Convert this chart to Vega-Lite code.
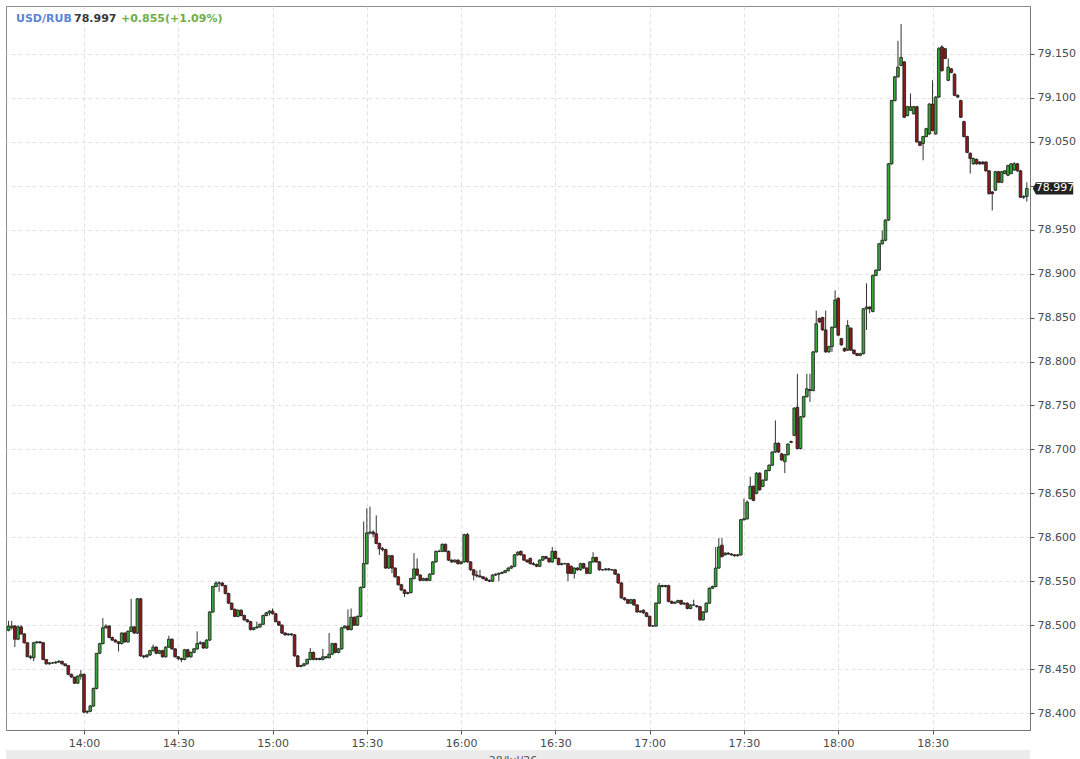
{
"$schema": "https://vega.github.io/schema/vega-lite/v6.json",
"width": 1024,
"height": 724,
"autosize": {"type": "none"},
"padding": {"left": 6, "top": 6, "right": 50, "bottom": 29},
"background": "white",
"config": {
  "view": {"stroke": "#8c8c8c", "strokeWidth": 1},
  "font": "DejaVu Sans",
  "axis": {"labelFont": "DejaVu Sans", "labelFontSize": 11, "labelColor": "#4a4a4a", "gridColor": "#e2e2e2", "gridDash": [4, 3], "gridWidth": 1, "tickColor": "#555", "tickSize": 4, "domainColor": "#777", "titleFont": "DejaVu Sans"}
},
"datasets": {
  "candles": [
{"time":"2026-07-28T13:36","open":78.494,"high":78.505,"low":78.493,"close":78.499},
{"time":"2026-07-28T13:37","open":78.497,"high":78.505,"low":78.495,"close":78.499},
{"time":"2026-07-28T13:38","open":78.499,"high":78.500,"low":78.475,"close":78.484},
{"time":"2026-07-28T13:39","open":78.484,"high":78.500,"low":78.483,"close":78.498},
{"time":"2026-07-28T13:40","open":78.498,"high":78.500,"low":78.489,"close":78.490},
{"time":"2026-07-28T13:41","open":78.490,"high":78.491,"low":78.479,"close":78.480},
{"time":"2026-07-28T13:42","open":78.480,"high":78.480,"low":78.464,"close":78.464},
{"time":"2026-07-28T13:43","open":78.464,"high":78.466,"low":78.461,"close":78.463},
{"time":"2026-07-28T13:44","open":78.463,"high":78.481,"low":78.459,"close":78.480},
{"time":"2026-07-28T13:45","open":78.480,"high":78.482,"low":78.479,"close":78.481},
{"time":"2026-07-28T13:46","open":78.481,"high":78.482,"low":78.479,"close":78.480},
{"time":"2026-07-28T13:47","open":78.480,"high":78.481,"low":78.460,"close":78.461},
{"time":"2026-07-28T13:48","open":78.461,"high":78.461,"low":78.455,"close":78.456},
{"time":"2026-07-28T13:49","open":78.456,"high":78.458,"low":78.455,"close":78.457},
{"time":"2026-07-28T13:50","open":78.457,"high":78.458,"low":78.456,"close":78.457},
{"time":"2026-07-28T13:51","open":78.457,"high":78.459,"low":78.456,"close":78.458},
{"time":"2026-07-28T13:52","open":78.458,"high":78.460,"low":78.457,"close":78.459},
{"time":"2026-07-28T13:53","open":78.459,"high":78.459,"low":78.455,"close":78.456},
{"time":"2026-07-28T13:54","open":78.456,"high":78.456,"low":78.453,"close":78.454},
{"time":"2026-07-28T13:55","open":78.454,"high":78.454,"low":78.443,"close":78.444},
{"time":"2026-07-28T13:56","open":78.444,"high":78.445,"low":78.440,"close":78.441},
{"time":"2026-07-28T13:57","open":78.441,"high":78.441,"low":78.433,"close":78.434},
{"time":"2026-07-28T13:58","open":78.434,"high":78.443,"low":78.433,"close":78.442},
{"time":"2026-07-28T13:59","open":78.442,"high":78.449,"low":78.438,"close":78.444},
{"time":"2026-07-28T14:00","open":78.444,"high":78.445,"low":78.400,"close":78.401},
{"time":"2026-07-28T14:01","open":78.401,"high":78.403,"low":78.399,"close":78.402},
{"time":"2026-07-28T14:02","open":78.402,"high":78.409,"low":78.401,"close":78.408},
{"time":"2026-07-28T14:03","open":78.408,"high":78.429,"low":78.407,"close":78.428},
{"time":"2026-07-28T14:04","open":78.428,"high":78.468,"low":78.427,"close":78.468},
{"time":"2026-07-28T14:05","open":78.468,"high":78.480,"low":78.467,"close":78.479},
{"time":"2026-07-28T14:06","open":78.479,"high":78.508,"low":78.478,"close":78.497},
{"time":"2026-07-28T14:07","open":78.497,"high":78.501,"low":78.496,"close":78.499},
{"time":"2026-07-28T14:08","open":78.499,"high":78.500,"low":78.485,"close":78.486},
{"time":"2026-07-28T14:09","open":78.486,"high":78.487,"low":78.482,"close":78.483},
{"time":"2026-07-28T14:10","open":78.483,"high":78.484,"low":78.480,"close":78.481},
{"time":"2026-07-28T14:11","open":78.481,"high":78.482,"low":78.470,"close":78.479},
{"time":"2026-07-28T14:12","open":78.479,"high":78.492,"low":78.478,"close":78.491},
{"time":"2026-07-28T14:13","open":78.491,"high":78.492,"low":78.480,"close":78.481},
{"time":"2026-07-28T14:14","open":78.481,"high":78.494,"low":78.480,"close":78.493},
{"time":"2026-07-28T14:15","open":78.493,"high":78.530,"low":78.492,"close":78.498},
{"time":"2026-07-28T14:16","open":78.498,"high":78.499,"low":78.490,"close":78.491},
{"time":"2026-07-28T14:17","open":78.491,"high":78.531,"low":78.490,"close":78.530},
{"time":"2026-07-28T14:18","open":78.530,"high":78.531,"low":78.464,"close":78.465},
{"time":"2026-07-28T14:19","open":78.465,"high":78.466,"low":78.462,"close":78.464},
{"time":"2026-07-28T14:20","open":78.464,"high":78.467,"low":78.463,"close":78.466},
{"time":"2026-07-28T14:21","open":78.466,"high":78.472,"low":78.465,"close":78.471},
{"time":"2026-07-28T14:22","open":78.471,"high":78.478,"low":78.470,"close":78.475},
{"time":"2026-07-28T14:23","open":78.475,"high":78.476,"low":78.467,"close":78.468},
{"time":"2026-07-28T14:24","open":78.468,"high":78.472,"low":78.467,"close":78.471},
{"time":"2026-07-28T14:25","open":78.471,"high":78.472,"low":78.463,"close":78.464},
{"time":"2026-07-28T14:26","open":78.464,"high":78.476,"low":78.463,"close":78.475},
{"time":"2026-07-28T14:27","open":78.475,"high":78.488,"low":78.474,"close":78.484},
{"time":"2026-07-28T14:28","open":78.484,"high":78.485,"low":78.472,"close":78.473},
{"time":"2026-07-28T14:29","open":78.473,"high":78.474,"low":78.463,"close":78.464},
{"time":"2026-07-28T14:30","open":78.464,"high":78.465,"low":78.460,"close":78.462},
{"time":"2026-07-28T14:31","open":78.462,"high":78.463,"low":78.458,"close":78.461},
{"time":"2026-07-28T14:32","open":78.461,"high":78.473,"low":78.460,"close":78.472},
{"time":"2026-07-28T14:33","open":78.472,"high":78.473,"low":78.463,"close":78.464},
{"time":"2026-07-28T14:34","open":78.464,"high":78.470,"low":78.463,"close":78.469},
{"time":"2026-07-28T14:35","open":78.469,"high":78.474,"low":78.468,"close":78.473},
{"time":"2026-07-28T14:36","open":78.473,"high":78.493,"low":78.472,"close":78.479},
{"time":"2026-07-28T14:37","open":78.479,"high":78.482,"low":78.478,"close":78.480},
{"time":"2026-07-28T14:38","open":78.480,"high":78.481,"low":78.473,"close":78.474},
{"time":"2026-07-28T14:39","open":78.474,"high":78.484,"low":78.473,"close":78.483},
{"time":"2026-07-28T14:40","open":78.483,"high":78.516,"low":78.482,"close":78.515},
{"time":"2026-07-28T14:41","open":78.515,"high":78.545,"low":78.514,"close":78.544},
{"time":"2026-07-28T14:42","open":78.544,"high":78.550,"low":78.543,"close":78.548},
{"time":"2026-07-28T14:43","open":78.548,"high":78.550,"low":78.538,"close":78.548},
{"time":"2026-07-28T14:44","open":78.548,"high":78.549,"low":78.544,"close":78.545},
{"time":"2026-07-28T14:45","open":78.545,"high":78.546,"low":78.535,"close":78.536},
{"time":"2026-07-28T14:46","open":78.536,"high":78.537,"low":78.524,"close":78.525},
{"time":"2026-07-28T14:47","open":78.525,"high":78.526,"low":78.517,"close":78.518},
{"time":"2026-07-28T14:48","open":78.518,"high":78.519,"low":78.509,"close":78.510},
{"time":"2026-07-28T14:49","open":78.510,"high":78.518,"low":78.509,"close":78.517},
{"time":"2026-07-28T14:50","open":78.517,"high":78.518,"low":78.510,"close":78.511},
{"time":"2026-07-28T14:51","open":78.511,"high":78.512,"low":78.505,"close":78.506},
{"time":"2026-07-28T14:52","open":78.506,"high":78.507,"low":78.503,"close":78.504},
{"time":"2026-07-28T14:53","open":78.504,"high":78.505,"low":78.494,"close":78.495},
{"time":"2026-07-28T14:54","open":78.495,"high":78.498,"low":78.494,"close":78.497},
{"time":"2026-07-28T14:55","open":78.497,"high":78.504,"low":78.496,"close":78.498},
{"time":"2026-07-28T14:56","open":78.498,"high":78.502,"low":78.497,"close":78.501},
{"time":"2026-07-28T14:57","open":78.501,"high":78.512,"low":78.500,"close":78.511},
{"time":"2026-07-28T14:58","open":78.511,"high":78.515,"low":78.510,"close":78.514},
{"time":"2026-07-28T14:59","open":78.514,"high":78.517,"low":78.511,"close":78.516},
{"time":"2026-07-28T15:00","open":78.516,"high":78.519,"low":78.512,"close":78.513},
{"time":"2026-07-28T15:01","open":78.513,"high":78.514,"low":78.503,"close":78.504},
{"time":"2026-07-28T15:02","open":78.504,"high":78.505,"low":78.499,"close":78.500},
{"time":"2026-07-28T15:03","open":78.500,"high":78.501,"low":78.490,"close":78.491},
{"time":"2026-07-28T15:04","open":78.491,"high":78.492,"low":78.488,"close":78.489},
{"time":"2026-07-28T15:05","open":78.489,"high":78.491,"low":78.488,"close":78.490},
{"time":"2026-07-28T15:06","open":78.490,"high":78.491,"low":78.488,"close":78.489},
{"time":"2026-07-28T15:07","open":78.489,"high":78.490,"low":78.464,"close":78.465},
{"time":"2026-07-28T15:08","open":78.465,"high":78.466,"low":78.452,"close":78.453},
{"time":"2026-07-28T15:09","open":78.453,"high":78.455,"low":78.452,"close":78.454},
{"time":"2026-07-28T15:10","open":78.454,"high":78.457,"low":78.453,"close":78.456},
{"time":"2026-07-28T15:11","open":78.456,"high":78.462,"low":78.455,"close":78.461},
{"time":"2026-07-28T15:12","open":78.461,"high":78.474,"low":78.460,"close":78.469},
{"time":"2026-07-28T15:13","open":78.469,"high":78.470,"low":78.460,"close":78.461},
{"time":"2026-07-28T15:14","open":78.461,"high":78.463,"low":78.460,"close":78.462},
{"time":"2026-07-28T15:15","open":78.462,"high":78.463,"low":78.460,"close":78.461},
{"time":"2026-07-28T15:16","open":78.461,"high":78.473,"low":78.460,"close":78.464},
{"time":"2026-07-28T15:17","open":78.464,"high":78.465,"low":78.462,"close":78.463},
{"time":"2026-07-28T15:18","open":78.463,"high":78.491,"low":78.462,"close":78.467},
{"time":"2026-07-28T15:19","open":78.467,"high":78.480,"low":78.466,"close":78.479},
{"time":"2026-07-28T15:20","open":78.479,"high":78.480,"low":78.468,"close":78.469},
{"time":"2026-07-28T15:21","open":78.469,"high":78.474,"low":78.468,"close":78.473},
{"time":"2026-07-28T15:22","open":78.473,"high":78.498,"low":78.472,"close":78.497},
{"time":"2026-07-28T15:23","open":78.497,"high":78.500,"low":78.496,"close":78.499},
{"time":"2026-07-28T15:24","open":78.499,"high":78.518,"low":78.494,"close":78.495},
{"time":"2026-07-28T15:25","open":78.495,"high":78.519,"low":78.494,"close":78.509},
{"time":"2026-07-28T15:26","open":78.509,"high":78.510,"low":78.499,"close":78.500},
{"time":"2026-07-28T15:27","open":78.500,"high":78.511,"low":78.499,"close":78.510},
{"time":"2026-07-28T15:28","open":78.510,"high":78.544,"low":78.509,"close":78.543},
{"time":"2026-07-28T15:29","open":78.543,"high":78.618,"low":78.542,"close":78.570},
{"time":"2026-07-28T15:30","open":78.570,"high":78.633,"low":78.569,"close":78.605},
{"time":"2026-07-28T15:31","open":78.605,"high":78.635,"low":78.603,"close":78.606},
{"time":"2026-07-28T15:32","open":78.606,"high":78.608,"low":78.600,"close":78.604},
{"time":"2026-07-28T15:33","open":78.604,"high":78.625,"low":78.592,"close":78.593},
{"time":"2026-07-28T15:34","open":78.593,"high":78.594,"low":78.580,"close":78.587},
{"time":"2026-07-28T15:35","open":78.587,"high":78.589,"low":78.584,"close":78.586},
{"time":"2026-07-28T15:36","open":78.586,"high":78.587,"low":78.564,"close":78.565},
{"time":"2026-07-28T15:37","open":78.565,"high":78.580,"low":78.564,"close":78.579},
{"time":"2026-07-28T15:38","open":78.579,"high":78.580,"low":78.559,"close":78.565},
{"time":"2026-07-28T15:39","open":78.565,"high":78.566,"low":78.554,"close":78.555},
{"time":"2026-07-28T15:40","open":78.555,"high":78.556,"low":78.545,"close":78.546},
{"time":"2026-07-28T15:41","open":78.546,"high":78.547,"low":78.539,"close":78.540},
{"time":"2026-07-28T15:42","open":78.540,"high":78.541,"low":78.532,"close":78.536},
{"time":"2026-07-28T15:43","open":78.536,"high":78.538,"low":78.535,"close":78.537},
{"time":"2026-07-28T15:44","open":78.537,"high":78.554,"low":78.536,"close":78.553},
{"time":"2026-07-28T15:45","open":78.553,"high":78.582,"low":78.552,"close":78.564},
{"time":"2026-07-28T15:46","open":78.564,"high":78.576,"low":78.556,"close":78.557},
{"time":"2026-07-28T15:47","open":78.557,"high":78.558,"low":78.550,"close":78.551},
{"time":"2026-07-28T15:48","open":78.551,"high":78.554,"low":78.550,"close":78.553},
{"time":"2026-07-28T15:49","open":78.553,"high":78.554,"low":78.550,"close":78.551},
{"time":"2026-07-28T15:50","open":78.551,"high":78.559,"low":78.550,"close":78.558},
{"time":"2026-07-28T15:51","open":78.558,"high":78.573,"low":78.557,"close":78.572},
{"time":"2026-07-28T15:52","open":78.572,"high":78.585,"low":78.571,"close":78.584},
{"time":"2026-07-28T15:53","open":78.584,"high":78.586,"low":78.583,"close":78.584},
{"time":"2026-07-28T15:54","open":78.584,"high":78.593,"low":78.583,"close":78.592},
{"time":"2026-07-28T15:55","open":78.592,"high":78.593,"low":78.583,"close":78.584},
{"time":"2026-07-28T15:56","open":78.584,"high":78.585,"low":78.573,"close":78.574},
{"time":"2026-07-28T15:57","open":78.574,"high":78.575,"low":78.571,"close":78.572},
{"time":"2026-07-28T15:58","open":78.572,"high":78.575,"low":78.571,"close":78.574},
{"time":"2026-07-28T15:59","open":78.574,"high":78.575,"low":78.569,"close":78.570},
{"time":"2026-07-28T16:00","open":78.570,"high":78.573,"low":78.569,"close":78.572},
{"time":"2026-07-28T16:01","open":78.572,"high":78.604,"low":78.571,"close":78.603},
{"time":"2026-07-28T16:02","open":78.603,"high":78.605,"low":78.571,"close":78.572},
{"time":"2026-07-28T16:03","open":78.572,"high":78.573,"low":78.562,"close":78.563},
{"time":"2026-07-28T16:04","open":78.563,"high":78.564,"low":78.551,"close":78.557},
{"time":"2026-07-28T16:05","open":78.557,"high":78.562,"low":78.554,"close":78.556},
{"time":"2026-07-28T16:06","open":78.556,"high":78.563,"low":78.554,"close":78.555},
{"time":"2026-07-28T16:07","open":78.555,"high":78.556,"low":78.552,"close":78.553},
{"time":"2026-07-28T16:08","open":78.553,"high":78.555,"low":78.550,"close":78.551},
{"time":"2026-07-28T16:09","open":78.551,"high":78.552,"low":78.549,"close":78.550},
{"time":"2026-07-28T16:10","open":78.550,"high":78.558,"low":78.549,"close":78.557},
{"time":"2026-07-28T16:11","open":78.557,"high":78.559,"low":78.556,"close":78.558},
{"time":"2026-07-28T16:12","open":78.558,"high":78.560,"low":78.550,"close":78.559},
{"time":"2026-07-28T16:13","open":78.559,"high":78.561,"low":78.558,"close":78.560},
{"time":"2026-07-28T16:14","open":78.560,"high":78.563,"low":78.559,"close":78.562},
{"time":"2026-07-28T16:15","open":78.562,"high":78.566,"low":78.561,"close":78.565},
{"time":"2026-07-28T16:16","open":78.565,"high":78.568,"low":78.564,"close":78.567},
{"time":"2026-07-28T16:17","open":78.567,"high":78.581,"low":78.566,"close":78.580},
{"time":"2026-07-28T16:18","open":78.580,"high":78.584,"low":78.579,"close":78.583},
{"time":"2026-07-28T16:19","open":78.584,"high":78.585,"low":78.579,"close":78.580},
{"time":"2026-07-28T16:20","open":78.580,"high":78.581,"low":78.573,"close":78.574},
{"time":"2026-07-28T16:21","open":78.574,"high":78.575,"low":78.571,"close":78.572},
{"time":"2026-07-28T16:22","open":78.576,"high":78.577,"low":78.569,"close":78.570},
{"time":"2026-07-28T16:23","open":78.570,"high":78.572,"low":78.568,"close":78.569},
{"time":"2026-07-28T16:24","open":78.569,"high":78.570,"low":78.566,"close":78.567},
{"time":"2026-07-28T16:25","open":78.567,"high":78.575,"low":78.566,"close":78.574},
{"time":"2026-07-28T16:26","open":78.574,"high":78.579,"low":78.573,"close":78.578},
{"time":"2026-07-28T16:27","open":78.578,"high":78.579,"low":78.575,"close":78.576},
{"time":"2026-07-28T16:28","open":78.576,"high":78.577,"low":78.571,"close":78.572},
{"time":"2026-07-28T16:29","open":78.572,"high":78.589,"low":78.571,"close":78.584},
{"time":"2026-07-28T16:30","open":78.584,"high":78.585,"low":78.575,"close":78.576},
{"time":"2026-07-28T16:31","open":78.576,"high":78.577,"low":78.568,"close":78.569},
{"time":"2026-07-28T16:32","open":78.569,"high":78.571,"low":78.568,"close":78.570},
{"time":"2026-07-28T16:33","open":78.570,"high":78.571,"low":78.569,"close":78.570},
{"time":"2026-07-28T16:34","open":78.570,"high":78.571,"low":78.550,"close":78.559},
{"time":"2026-07-28T16:35","open":78.567,"high":78.568,"low":78.558,"close":78.559},
{"time":"2026-07-28T16:36","open":78.559,"high":78.566,"low":78.553,"close":78.565},
{"time":"2026-07-28T16:37","open":78.565,"high":78.566,"low":78.562,"close":78.563},
{"time":"2026-07-28T16:38","open":78.563,"high":78.571,"low":78.562,"close":78.570},
{"time":"2026-07-28T16:39","open":78.570,"high":78.571,"low":78.564,"close":78.565},
{"time":"2026-07-28T16:40","open":78.565,"high":78.566,"low":78.558,"close":78.559},
{"time":"2026-07-28T16:41","open":78.559,"high":78.573,"low":78.558,"close":78.572},
{"time":"2026-07-28T16:42","open":78.572,"high":78.583,"low":78.571,"close":78.577},
{"time":"2026-07-28T16:43","open":78.577,"high":78.578,"low":78.571,"close":78.572},
{"time":"2026-07-28T16:44","open":78.572,"high":78.573,"low":78.562,"close":78.563},
{"time":"2026-07-28T16:45","open":78.563,"high":78.564,"low":78.562,"close":78.563},
{"time":"2026-07-28T16:46","open":78.563,"high":78.565,"low":78.562,"close":78.564},
{"time":"2026-07-28T16:47","open":78.564,"high":78.565,"low":78.562,"close":78.563},
{"time":"2026-07-28T16:48","open":78.563,"high":78.564,"low":78.562,"close":78.563},
{"time":"2026-07-28T16:49","open":78.563,"high":78.564,"low":78.557,"close":78.558},
{"time":"2026-07-28T16:50","open":78.558,"high":78.559,"low":78.547,"close":78.548},
{"time":"2026-07-28T16:51","open":78.548,"high":78.549,"low":78.530,"close":78.531},
{"time":"2026-07-28T16:52","open":78.531,"high":78.532,"low":78.528,"close":78.529},
{"time":"2026-07-28T16:53","open":78.529,"high":78.530,"low":78.524,"close":78.525},
{"time":"2026-07-28T16:54","open":78.525,"high":78.530,"low":78.524,"close":78.529},
{"time":"2026-07-28T16:55","open":78.529,"high":78.530,"low":78.522,"close":78.523},
{"time":"2026-07-28T16:56","open":78.523,"high":78.524,"low":78.514,"close":78.515},
{"time":"2026-07-28T16:57","open":78.515,"high":78.517,"low":78.514,"close":78.516},
{"time":"2026-07-28T16:58","open":78.517,"high":78.518,"low":78.513,"close":78.514},
{"time":"2026-07-28T16:59","open":78.514,"high":78.515,"low":78.509,"close":78.510},
{"time":"2026-07-28T17:00","open":78.510,"high":78.511,"low":78.498,"close":78.499},
{"time":"2026-07-28T17:01","open":78.499,"high":78.500,"low":78.498,"close":78.499},
{"time":"2026-07-28T17:02","open":78.499,"high":78.526,"low":78.498,"close":78.525},
{"time":"2026-07-28T17:03","open":78.525,"high":78.548,"low":78.524,"close":78.545},
{"time":"2026-07-28T17:04","open":78.545,"high":78.546,"low":78.543,"close":78.544},
{"time":"2026-07-28T17:05","open":78.544,"high":78.546,"low":78.543,"close":78.545},
{"time":"2026-07-28T17:06","open":78.545,"high":78.546,"low":78.526,"close":78.527},
{"time":"2026-07-28T17:07","open":78.527,"high":78.528,"low":78.524,"close":78.525},
{"time":"2026-07-28T17:08","open":78.525,"high":78.527,"low":78.524,"close":78.526},
{"time":"2026-07-28T17:09","open":78.526,"high":78.529,"low":78.525,"close":78.528},
{"time":"2026-07-28T17:10","open":78.528,"high":78.529,"low":78.523,"close":78.524},
{"time":"2026-07-28T17:11","open":78.524,"high":78.526,"low":78.523,"close":78.525},
{"time":"2026-07-28T17:12","open":78.525,"high":78.526,"low":78.518,"close":78.519},
{"time":"2026-07-28T17:13","open":78.519,"high":78.524,"low":78.518,"close":78.523},
{"time":"2026-07-28T17:14","open":78.523,"high":78.529,"low":78.522,"close":78.523},
{"time":"2026-07-28T17:15","open":78.522,"high":78.523,"low":78.520,"close":78.521},
{"time":"2026-07-28T17:16","open":78.521,"high":78.522,"low":78.505,"close":78.506},
{"time":"2026-07-28T17:17","open":78.506,"high":78.516,"low":78.505,"close":78.515},
{"time":"2026-07-28T17:18","open":78.515,"high":78.526,"low":78.514,"close":78.525},
{"time":"2026-07-28T17:19","open":78.525,"high":78.543,"low":78.524,"close":78.542},
{"time":"2026-07-28T17:20","open":78.542,"high":78.545,"low":78.541,"close":78.544},
{"time":"2026-07-28T17:21","open":78.544,"high":78.589,"low":78.543,"close":78.565},
{"time":"2026-07-28T17:22","open":78.565,"high":78.599,"low":78.564,"close":78.589},
{"time":"2026-07-28T17:23","open":78.591,"high":78.599,"low":78.577,"close":78.578},
{"time":"2026-07-28T17:24","open":78.580,"high":78.583,"low":78.579,"close":78.582},
{"time":"2026-07-28T17:25","open":78.582,"high":78.583,"low":78.580,"close":78.581},
{"time":"2026-07-28T17:26","open":78.581,"high":78.582,"low":78.579,"close":78.580},
{"time":"2026-07-28T17:27","open":78.580,"high":78.581,"low":78.578,"close":78.579},
{"time":"2026-07-28T17:28","open":78.579,"high":78.581,"low":78.578,"close":78.580},
{"time":"2026-07-28T17:29","open":78.580,"high":78.621,"low":78.579,"close":78.620},
{"time":"2026-07-28T17:30","open":78.620,"high":78.644,"low":78.619,"close":78.621},
{"time":"2026-07-28T17:31","open":78.621,"high":78.642,"low":78.620,"close":78.640},
{"time":"2026-07-28T17:32","open":78.644,"high":78.669,"low":78.643,"close":78.658},
{"time":"2026-07-28T17:33","open":78.658,"high":78.659,"low":78.641,"close":78.642},
{"time":"2026-07-28T17:34","open":78.650,"high":78.674,"low":78.649,"close":78.673},
{"time":"2026-07-28T17:35","open":78.673,"high":78.674,"low":78.653,"close":78.654},
{"time":"2026-07-28T17:36","open":78.658,"high":78.666,"low":78.657,"close":78.665},
{"time":"2026-07-28T17:37","open":78.665,"high":78.677,"low":78.664,"close":78.676},
{"time":"2026-07-28T17:38","open":78.676,"high":78.683,"low":78.675,"close":78.682},
{"time":"2026-07-28T17:39","open":78.682,"high":78.698,"low":78.681,"close":78.697},
{"time":"2026-07-28T17:40","open":78.697,"high":78.733,"low":78.696,"close":78.707},
{"time":"2026-07-28T17:41","open":78.707,"high":78.708,"low":78.696,"close":78.697},
{"time":"2026-07-28T17:42","open":78.695,"high":78.696,"low":78.687,"close":78.688},
{"time":"2026-07-28T17:43","open":78.686,"high":78.695,"low":78.673,"close":78.694},
{"time":"2026-07-28T17:44","open":78.694,"high":78.707,"low":78.693,"close":78.706},
{"time":"2026-07-28T17:45","open":78.708,"high":78.710,"low":78.707,"close":78.709},
{"time":"2026-07-28T17:46","open":78.716,"high":78.748,"low":78.715,"close":78.747},
{"time":"2026-07-28T17:47","open":78.748,"high":78.786,"low":78.700,"close":78.701},
{"time":"2026-07-28T17:48","open":78.701,"high":78.738,"low":78.700,"close":78.737},
{"time":"2026-07-28T17:49","open":78.737,"high":78.761,"low":78.736,"close":78.760},
{"time":"2026-07-28T17:50","open":78.760,"high":78.786,"low":78.759,"close":78.769},
{"time":"2026-07-28T17:51","open":78.768,"high":78.786,"low":78.754,"close":78.767},
{"time":"2026-07-28T17:52","open":78.767,"high":78.812,"low":78.766,"close":78.811},
{"time":"2026-07-28T17:53","open":78.811,"high":78.858,"low":78.810,"close":78.843},
{"time":"2026-07-28T17:54","open":78.849,"high":78.850,"low":78.844,"close":78.845},
{"time":"2026-07-28T17:55","open":78.850,"high":78.851,"low":78.835,"close":78.836},
{"time":"2026-07-28T17:56","open":78.836,"high":78.858,"low":78.810,"close":78.811},
{"time":"2026-07-28T17:57","open":78.811,"high":78.818,"low":78.810,"close":78.817},
{"time":"2026-07-28T17:58","open":78.817,"high":78.840,"low":78.811,"close":78.839},
{"time":"2026-07-28T17:59","open":78.839,"high":78.881,"low":78.838,"close":78.870},
{"time":"2026-07-28T18:00","open":78.872,"high":78.873,"low":78.829,"close":78.830},
{"time":"2026-07-28T18:01","open":78.826,"high":78.827,"low":78.818,"close":78.819},
{"time":"2026-07-28T18:02","open":78.815,"high":78.816,"low":78.811,"close":78.812},
{"time":"2026-07-28T18:03","open":78.813,"high":78.847,"low":78.812,"close":78.841},
{"time":"2026-07-28T18:04","open":78.838,"high":78.839,"low":78.812,"close":78.813},
{"time":"2026-07-28T18:05","open":78.813,"high":78.814,"low":78.808,"close":78.809},
{"time":"2026-07-28T18:06","open":78.809,"high":78.810,"low":78.806,"close":78.807},
{"time":"2026-07-28T18:07","open":78.807,"high":78.810,"low":78.806,"close":78.809},
{"time":"2026-07-28T18:08","open":78.809,"high":78.861,"low":78.808,"close":78.860},
{"time":"2026-07-28T18:09","open":78.860,"high":78.889,"low":78.836,"close":78.862},
{"time":"2026-07-28T18:10","open":78.862,"high":78.863,"low":78.855,"close":78.860},
{"time":"2026-07-28T18:11","open":78.857,"high":78.899,"low":78.856,"close":78.898},
{"time":"2026-07-28T18:12","open":78.898,"high":78.905,"low":78.897,"close":78.904},
{"time":"2026-07-28T18:13","open":78.904,"high":78.935,"low":78.903,"close":78.934},
{"time":"2026-07-28T18:14","open":78.934,"high":78.949,"low":78.933,"close":78.938},
{"time":"2026-07-28T18:15","open":78.938,"high":78.962,"low":78.937,"close":78.961},
{"time":"2026-07-28T18:16","open":78.961,"high":79.026,"low":78.960,"close":79.025},
{"time":"2026-07-28T18:17","open":79.025,"high":79.098,"low":79.024,"close":79.097},
{"time":"2026-07-28T18:18","open":79.097,"high":79.125,"low":79.096,"close":79.124},
{"time":"2026-07-28T18:19","open":79.124,"high":79.165,"low":79.123,"close":79.135},
{"time":"2026-07-28T18:20","open":79.137,"high":79.184,"low":79.136,"close":79.146},
{"time":"2026-07-28T18:21","open":79.141,"high":79.142,"low":79.077,"close":79.078},
{"time":"2026-07-28T18:22","open":79.080,"high":79.091,"low":79.079,"close":79.090},
{"time":"2026-07-28T18:23","open":79.086,"high":79.105,"low":79.085,"close":79.090},
{"time":"2026-07-28T18:24","open":79.082,"high":79.091,"low":79.081,"close":79.090},
{"time":"2026-07-28T18:25","open":79.090,"high":79.091,"low":79.049,"close":79.050},
{"time":"2026-07-28T18:26","open":79.050,"high":79.051,"low":79.045,"close":79.046},
{"time":"2026-07-28T18:27","open":79.048,"high":79.057,"low":79.029,"close":79.056},
{"time":"2026-07-28T18:28","open":79.056,"high":79.066,"low":79.055,"close":79.065},
{"time":"2026-07-28T18:29","open":79.059,"high":79.094,"low":79.058,"close":79.093},
{"time":"2026-07-28T18:30","open":79.093,"high":79.120,"low":79.062,"close":79.063},
{"time":"2026-07-28T18:31","open":79.059,"high":79.102,"low":79.058,"close":79.101},
{"time":"2026-07-28T18:32","open":79.101,"high":79.158,"low":79.100,"close":79.156},
{"time":"2026-07-28T18:33","open":79.158,"high":79.160,"low":79.130,"close":79.131},
{"time":"2026-07-28T18:34","open":79.156,"high":79.157,"low":79.144,"close":79.145},
{"time":"2026-07-28T18:35","open":79.120,"high":79.145,"low":79.119,"close":79.135},
{"time":"2026-07-28T18:36","open":79.133,"high":79.134,"low":79.128,"close":79.129},
{"time":"2026-07-28T18:37","open":79.127,"high":79.128,"low":79.102,"close":79.103},
{"time":"2026-07-28T18:38","open":79.103,"high":79.104,"low":79.100,"close":79.101},
{"time":"2026-07-28T18:39","open":79.097,"high":79.098,"low":79.077,"close":79.078},
{"time":"2026-07-28T18:40","open":79.073,"high":79.074,"low":79.055,"close":79.056},
{"time":"2026-07-28T18:41","open":79.056,"high":79.057,"low":79.037,"close":79.038},
{"time":"2026-07-28T18:42","open":79.037,"high":79.038,"low":79.014,"close":79.031},
{"time":"2026-07-28T18:43","open":79.025,"high":79.032,"low":79.024,"close":79.031},
{"time":"2026-07-28T18:44","open":79.030,"high":79.031,"low":79.024,"close":79.025},
{"time":"2026-07-28T18:45","open":79.027,"high":79.028,"low":79.024,"close":79.025},
{"time":"2026-07-28T18:46","open":79.027,"high":79.028,"low":79.024,"close":79.025},
{"time":"2026-07-28T18:47","open":79.027,"high":79.028,"low":79.016,"close":79.017},
{"time":"2026-07-28T18:48","open":79.017,"high":79.018,"low":78.990,"close":78.991},
{"time":"2026-07-28T18:49","open":78.993,"high":78.994,"low":78.972,"close":78.991},
{"time":"2026-07-28T18:50","open":78.995,"high":79.017,"low":78.994,"close":79.016},
{"time":"2026-07-28T18:51","open":79.016,"high":79.017,"low":79.003,"close":79.004},
{"time":"2026-07-28T18:52","open":79.004,"high":79.017,"low":79.003,"close":79.016},
{"time":"2026-07-28T18:53","open":79.014,"high":79.018,"low":79.013,"close":79.017},
{"time":"2026-07-28T18:54","open":79.012,"high":79.024,"low":79.011,"close":79.023},
{"time":"2026-07-28T18:55","open":79.014,"high":79.026,"low":79.013,"close":79.025},
{"time":"2026-07-28T18:56","open":79.018,"high":79.027,"low":79.017,"close":79.025},
{"time":"2026-07-28T18:57","open":79.025,"high":79.026,"low":79.016,"close":79.017},
{"time":"2026-07-28T18:58","open":79.017,"high":79.018,"low":78.986,"close":78.987},
{"time":"2026-07-28T18:59","open":78.987,"high":78.989,"low":78.985,"close":78.988},
{"time":"2026-07-28T19:00","open":78.988,"high":79.004,"low":78.982,"close":78.997}
  ]
},
"layer": [
  {
    "data": {"values": [{}]},
    "mark": {"type": "rect", "color": "#ececec", "yOffset": 20, "y2Offset": 29},
    "encoding": {
      "x": {"datum": {"year": 2026, "month": 7, "date": 28, "hours": 13, "minutes": 35, "seconds": 11}, "type": "temporal"},
      "x2": {"datum": {"year": 2026, "month": 7, "date": 28, "hours": 19, "minutes": 1, "seconds": 1}},
      "y": {"datum": 78.3807, "type": "quantitative"},
      "y2": {"datum": 78.3807}
    }
  },
  {
    "data": {"name": "candles"},
    "mark": {"type": "rule", "color": "#333", "strokeWidth": 1},
    "encoding": {
      "x": {"field": "time", "type": "temporal",
        "scale": {"domain": [{"year": 2026, "month": 7, "date": 28, "hours": 13, "minutes": 35, "seconds": 11}, {"year": 2026, "month": 7, "date": 28, "hours": 19, "minutes": 1, "seconds": 1}], "padding": 0},
        "axis": {"format": "%H:%M", "grid": true, "labelFlush": false, "labelPadding": 3, "title": null,
          "values": [
            {"year": 2026, "month": 7, "date": 28, "hours": 14, "minutes": 0},
            {"year": 2026, "month": 7, "date": 28, "hours": 14, "minutes": 30},
            {"year": 2026, "month": 7, "date": 28, "hours": 15, "minutes": 0},
            {"year": 2026, "month": 7, "date": 28, "hours": 15, "minutes": 30},
            {"year": 2026, "month": 7, "date": 28, "hours": 16, "minutes": 0},
            {"year": 2026, "month": 7, "date": 28, "hours": 16, "minutes": 30},
            {"year": 2026, "month": 7, "date": 28, "hours": 17, "minutes": 0},
            {"year": 2026, "month": 7, "date": 28, "hours": 17, "minutes": 30},
            {"year": 2026, "month": 7, "date": 28, "hours": 18, "minutes": 0},
            {"year": 2026, "month": 7, "date": 28, "hours": 18, "minutes": 30}
          ]}},
      "y": {"field": "low", "type": "quantitative",
        "scale": {"domain": [78.3807, 79.2046], "nice": false, "zero": false, "padding": 0},
        "axis": {"orient": "right", "format": ".3f", "grid": true, "title": null, "labelPadding": 3,
          "labelExpr": "abs(datum.value - 79) < 0.001 ? '' : datum.label",
          "values": [78.40, 78.45, 78.50, 78.55, 78.60, 78.65, 78.70, 78.75, 78.80, 78.85, 78.90, 78.95, 79.00, 79.05, 79.10, 79.15]}},
      "y2": {"field": "high"}
    }
  },
  {
    "data": {"name": "candles"},
    "mark": {"type": "bar", "size": 2.7, "stroke": "#1a1a1a", "strokeWidth": 0.8},
    "encoding": {
      "x": {"field": "time", "type": "temporal"},
      "y": {"field": "open", "type": "quantitative"},
      "y2": {"field": "close"},
      "color": {"condition": {"test": "datum.close > datum.open", "value": "#38a538"}, "value": "#8b1c1c"}
    }
  },
  {
    "data": {"values": [{}]},
    "mark": {"type": "text", "text": "28/Jul/26", "font": "DejaVu Sans", "fontSize": 11, "color": "#555", "align": "center", "baseline": "top", "dy": 25},
    "encoding": {
      "x": {"datum": {"year": 2026, "month": 7, "date": 28, "hours": 16, "minutes": 16, "seconds": 30}, "type": "temporal"},
      "y": {"datum": 78.3807, "type": "quantitative"}
    }
  },
  {
    "data": {"values": [{}]},
    "mark": {"type": "text", "text": "USD/RUB", "font": "DejaVu Sans", "fontSize": 11, "fontWeight": "bold", "color": "#5a86d4", "align": "left", "baseline": "alphabetic", "dx": 10, "dy": 16},
    "encoding": {
      "x": {"datum": {"year": 2026, "month": 7, "date": 28, "hours": 13, "minutes": 35, "seconds": 11}, "type": "temporal"},
      "y": {"datum": 79.2046, "type": "quantitative"}
    }
  },
  {
    "data": {"values": [{}]},
    "mark": {"type": "text", "text": "78.997", "font": "DejaVu Sans", "fontSize": 11, "fontWeight": "bold", "color": "#3a3a3a", "align": "left", "baseline": "alphabetic", "dx": 68, "dy": 16},
    "encoding": {
      "x": {"datum": {"year": 2026, "month": 7, "date": 28, "hours": 13, "minutes": 35, "seconds": 11}, "type": "temporal"},
      "y": {"datum": 79.2046, "type": "quantitative"}
    }
  },
  {
    "data": {"values": [{}]},
    "mark": {"type": "text", "text": "+0.855(+1.09%)", "font": "DejaVu Sans", "fontSize": 11, "fontWeight": "bold", "color": "#6fae45", "align": "left", "baseline": "alphabetic", "dx": 115, "dy": 16},
    "encoding": {
      "x": {"datum": {"year": 2026, "month": 7, "date": 28, "hours": 13, "minutes": 35, "seconds": 11}, "type": "temporal"},
      "y": {"datum": 79.2046, "type": "quantitative"}
    }
  },
  {
    "data": {"values": [{}]},
    "mark": {"type": "point", "filled": true, "opacity": 1, "color": "#222222", "strokeWidth": 0, "size": 1632, "xOffset": 23,
      "shape": "M-1,0L-0.84,-0.3L1,-0.3L1,0.3L-0.84,0.3Z"},
    "encoding": {
      "x": {"datum": {"year": 2026, "month": 7, "date": 28, "hours": 19, "minutes": 1, "seconds": 1}, "type": "temporal"},
      "y": {"datum": 78.997, "type": "quantitative"}
    }
  },
  {
    "data": {"values": [{}]},
    "mark": {"type": "text", "text": "78.997", "font": "DejaVu Sans", "fontSize": 11, "color": "white", "align": "center", "baseline": "middle", "dx": 25},
    "encoding": {
      "x": {"datum": {"year": 2026, "month": 7, "date": 28, "hours": 19, "minutes": 1, "seconds": 1}, "type": "temporal"},
      "y": {"datum": 78.997, "type": "quantitative"}
    }
  }
]
}
